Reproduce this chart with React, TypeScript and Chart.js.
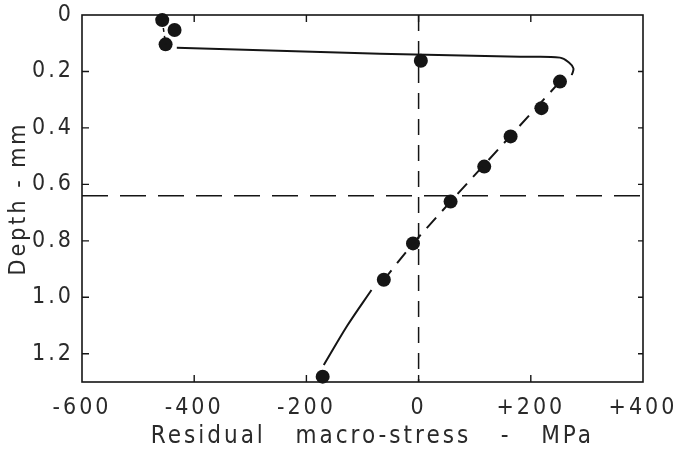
import React, { useEffect, useRef } from "react";
import { Chart, registerables } from "chart.js";

Chart.register(...registerables);

// Measured points (stress MPa, depth mm)
const pointStress = [-457, -435, -451, 4, 252, 219, 164, 117, 57, -10, -62, -171];
const pointDepth = [0.018, 0.053, 0.104, 0.162, 0.236, 0.33, 0.43, 0.537, 0.661, 0.809, 0.938, 1.281];

// Upper solid curve
const topCurveStress = [-431, -69, 181, 252, 268, 276, 273];
const topCurveDepth = [0.116, 0.137, 0.148, 0.151, 0.168, 0.189, 0.213];

// Dashed fitted line through the linear part
const fitStress = [252, 57, -10, -62];
const fitDepth = [0.236, 0.661, 0.809, 0.938];

// Lower solid curve
const lowCurveStress = [-84, -127, -169];
const lowCurveDepth = [0.974, 1.1, 1.24];

// Short dashed link at the surface
const linkStress = [-457, -451];
const linkDepth = [0.018, 0.104];

// Reference lines
const zeroLineStress = [0, 0];
const zeroLineDepth = [0, 1.3];
const depthLineStress = [-600, 400];
const depthLineDepth = [0.64, 0.64];

const xTicks = [-600, -400, -200, 0, 200, 400];
const yTicks = [0, 0.2, 0.4, 0.6, 0.8, 1.0, 1.2];
const xTickLabels = ["-600", "-400", "-200", "0", "+200", "+400"];
const yTickLabels = ["0", "0.2", "0.4", "0.6", "0.8", "1.0", "1.2"];

const toXY = (xs: number[], ys: number[]) => xs.map((x, i) => ({ x, y: ys[i] }));

const INK = "#151515";
const TEXT = "#2a2a2a";
const FONT = "'DejaVu Sans Condensed', 'Liberation Sans Narrow', 'DejaVu Sans', sans-serif";

const framePlugin = {
  id: "frameTicks",
  beforeDraw(chart: any) {
    chart.ctx.letterSpacing = "3px";
  },
  beforeDatasetsDraw(chart: any) {
    const { ctx, chartArea } = chart;
    ctx.save();
    ctx.strokeStyle = INK;
    ctx.lineWidth = 1.6;
    ctx.strokeRect(chartArea.left, chartArea.top, chartArea.right - chartArea.left, chartArea.bottom - chartArea.top);
    const xs = chart.scales.x;
    const ys = chart.scales.y;
    ctx.lineWidth = 1.4;
    ctx.beginPath();
    xs.ticks.forEach((t: any) => {
      const px = xs.getPixelForValue(t.value);
      if (px <= chartArea.left + 2 || px >= chartArea.right - 2) return;
      ctx.moveTo(px, chartArea.bottom);
      ctx.lineTo(px, chartArea.bottom - 7);
      ctx.moveTo(px, chartArea.top);
      ctx.lineTo(px, chartArea.top + 7);
    });
    ys.ticks.forEach((t: any) => {
      const py = ys.getPixelForValue(t.value);
      if (py <= chartArea.top + 2 || py >= chartArea.bottom - 2) return;
      ctx.moveTo(chartArea.left, py);
      ctx.lineTo(chartArea.left + 7, py);
      ctx.moveTo(chartArea.right, py);
      ctx.lineTo(chartArea.right - 5, py);
    });
    ctx.stroke();
    ctx.restore();
  },
};

export default function App() {
  const ref = useRef<HTMLCanvasElement | null>(null);

  useEffect(() => {
    if (!ref.current) return;
    const lineDs = (data: any, dash: number[], width: number, tension = 0) => ({
      data,
      showLine: true,
      borderColor: INK,
      borderWidth: width,
      borderDash: dash,
      pointRadius: 0,
      pointHoverRadius: 0,
      tension,
      fill: false,
    });
    const chart = new Chart(ref.current, {
      type: "scatter",
      data: {
        datasets: [
          lineDs(toXY(zeroLineStress, zeroLineDepth), [16, 10], 1.5),
          lineDs(toXY(depthLineStress, depthLineDepth), [26, 12], 1.5),
          lineDs(toXY(topCurveStress, topCurveDepth), [], 2, 0.4),
          lineDs(toXY(fitStress, fitDepth), [14, 9], 2),
          lineDs(toXY(lowCurveStress, lowCurveDepth), [], 2, 0.3),
          lineDs(toXY(linkStress, linkDepth), [4, 4], 1.5),
          {
            data: toXY(pointStress, pointDepth),
            showLine: false,
            pointRadius: 7,
            pointHoverRadius: 7,
            pointBackgroundColor: INK,
            pointBorderColor: INK,
            pointBorderWidth: 0,
            clip: false,
          } as any,
        ],
      },
      options: {
        animation: false,
        responsive: true,
        maintainAspectRatio: false,
        events: [],
        layout: { padding: { left: 0, top: 15, right: 30, bottom: 0 } },
        plugins: { legend: { display: false }, tooltip: { enabled: false } },
        scales: {
          x: {
            type: "linear",
            min: -600,
            max: 400,
            afterBuildTicks: (s: any) => {
              s.ticks = xTicks.map((v) => ({ value: v }));
            },
            afterFit: (s: any) => {
              s.height = 71;
              s.paddingLeft = 0;
              s.paddingRight = 0;
            },
            grid: { display: false, drawTicks: false },
            border: { display: false },
            ticks: {
              padding: 12,
              color: TEXT,
              font: { family: FONT, size: 23 },
              maxRotation: 0,
              callback: (v: any) => {
                const i = xTicks.indexOf(Number(v));
                return i >= 0 ? xTickLabels[i] : "";
              },
            },
            title: {
              display: true,
              text: "  Residual   macro-stress   -   MPa",
              color: TEXT,
              font: { family: FONT, size: 24 },
              padding: { top: 0, bottom: 2 },
            },
          },
          y: {
            type: "linear",
            min: 0,
            max: 1.3,
            reverse: true,
            afterBuildTicks: (s: any) => {
              s.ticks = yTicks.map((v) => ({ value: v }));
            },
            afterFit: (s: any) => {
              s.width = 82;
              s.paddingTop = 0;
              s.paddingBottom = 0;
            },
            grid: { display: false, drawTicks: false },
            border: { display: false },
            ticks: {
              padding: 8,
              color: TEXT,
              font: { family: FONT, size: 23 },
              callback: (v: any) => {
                const i = yTicks.findIndex((t) => Math.abs(t - Number(v)) < 1e-6);
                return i >= 0 ? yTickLabels[i] : "";
              },
            },
            title: {
              display: true,
              text: "Depth - mm",
              color: TEXT,
              font: { family: FONT, size: 23 },
              padding: { top: 5, bottom: 0 },
            },
          },
        },
      },
      plugins: [framePlugin],
    });
    return () => chart.destroy();
  }, []);

  return (
    <div style={{ position: "fixed", left: 0, top: 0, width: 673, height: 453, background: "#fff" }}>
      <canvas ref={ref} />
    </div>
  );
}
